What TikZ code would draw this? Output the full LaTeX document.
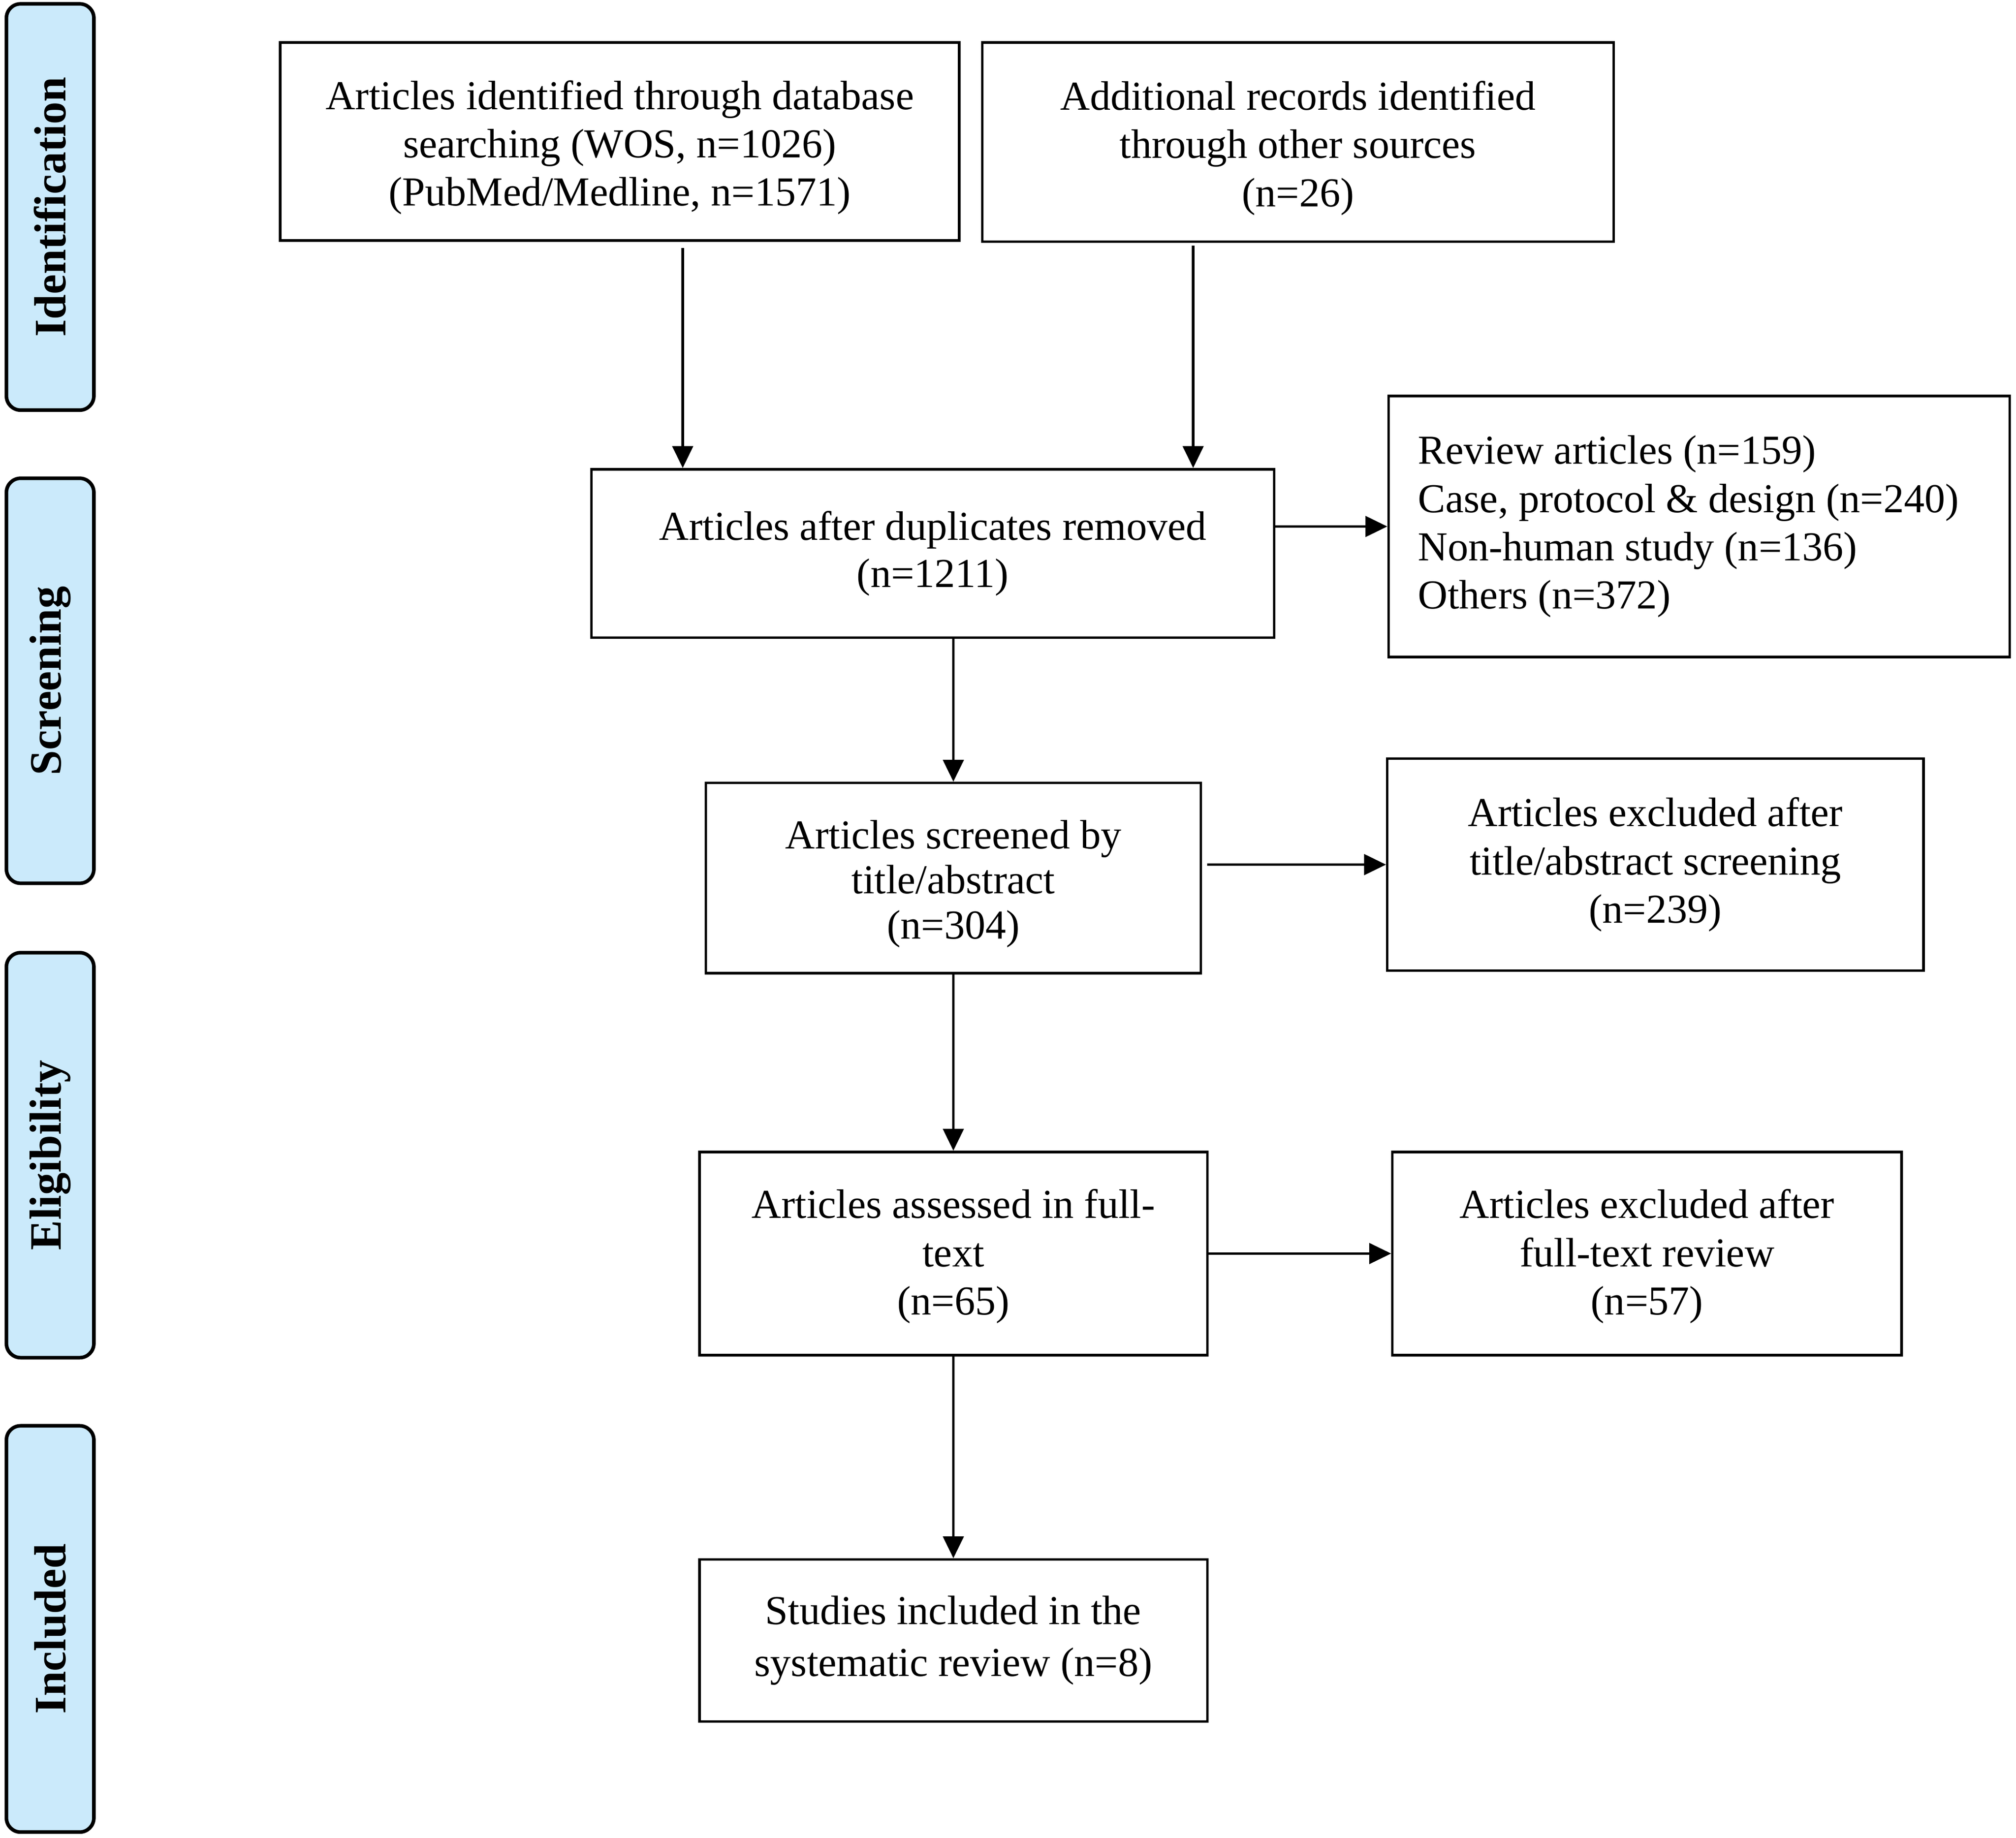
\documentclass[tikz,border=0pt]{standalone}
\usepackage{fontspec}
\setmainfont{Liberation Serif}
\usetikzlibrary{arrows.meta}
\definecolor{sideblue}{RGB}{203,234,251}
% strut on the first line that moves a centred text block down by #1
\newcommand{\dnshift}[1]{\rule{0pt}{\dimexpr\fontcharht\font`d+#1*2\relax}}
\begin{document}
\begin{tikzpicture}[x=1pt,y=-1pt,
  box/.style={draw, line width=2pt, align=center, inner sep=0pt,
    font=\fontsize{32}{37.5}\selectfont},
  side/.style={draw, line width=2.8pt, rounded corners=11pt, fill=sideblue,
    rotate=90, minimum height=68pt, inner sep=0pt,
    font=\bfseries\fontsize{35}{40}\selectfont},
  arr/.style={line width=2pt, -{Triangle[length=17pt,width=16pt]}}]
\useasboundingbox (0,0) rectangle (1568,1429.6);

% phase labels
\node[side, minimum width=316pt] (sid) at (39,161) {Identification};
\node[side, minimum width=315pt] (sscr) at (39,529.5) {Screening};
\node[side, minimum width=315pt] (selig) at (39,898.5) {Eligibility};
\node[side, minimum width=316pt] (sinc) at (39,1267) {Included};

% boxes
\node[box, minimum width=528pt, minimum height=154pt] (b1) at (482,110)
  {\dnshift{5.5pt}Articles identified through database\\searching (WOS, n=1026)\\(PubMed/Medline, n=1571)};
\node[box, minimum width=491pt, minimum height=155pt] (b2) at (1009.5,110.5)
  {\dnshift{5.5pt}Additional records identified\\through other sources\\(n=26)};
\node[box, minimum width=531pt, minimum height=131pt] (b3) at (725.5,430.5)
  {Articles after duplicates removed\\[-1pt](n=1211)};
\node[box, align=left, text width=437pt, inner xsep=23pt, minimum height=203pt] (b4) at (1321.5,409.5)
  {\spaceskip=0pt Review articles (n=159)\\Case, protocol \& design (n=240)\\Non-human study (n=136)\\Others (n=372)};
\node[box, minimum width=385pt, minimum height=148pt, font=\fontsize{32}{35}\selectfont] (b5) at (741.5,683)
  {\dnshift{5pt}Articles screened by\\title/abstract\\(n=304)};
\node[box, minimum width=417pt, minimum height=165pt] (b6) at (1287.5,672.5)
  {Articles excluded after\\title/abstract screening\\(n=239)};
\node[box, minimum width=395pt, minimum height=158pt] (b7) at (741.5,975)
  {\dnshift{3pt}Articles assessed in full-\\text\\(n=65)};
\node[box, minimum width=396pt, minimum height=158pt] (b8) at (1281,975)
  {\dnshift{3pt}Articles excluded after\\full-text review\\(n=57)};
\node[box, minimum width=395pt, minimum height=126pt] (b9) at (741.5,1276)
  {Studies included in the\\[3pt]systematic review (n=8)};

% connectors
\draw[arr, shorten <=5pt] ([xshift=49pt]b1.south) -- ([xshift=49pt]b1.south |- b3.north);
\draw[arr, shorten <=2pt] ([xshift=-81.5pt]b2.south) -- ([xshift=-81.5pt]b2.south |- b3.north);
\draw[arr] (b3.east |- b4.west) -- (b4.west);
\draw[arr] (b3.south -| b5.north) -- (b5.north);
\draw[arr, shorten <=4pt] (b5.east |- b6.west) -- (b6.west);
\draw[arr] (b5.south) -- (b7.north);
\draw[arr] (b7.east) -- (b8.west);
\draw[arr] (b7.south) -- (b9.north);
\end{tikzpicture}
\end{document}
